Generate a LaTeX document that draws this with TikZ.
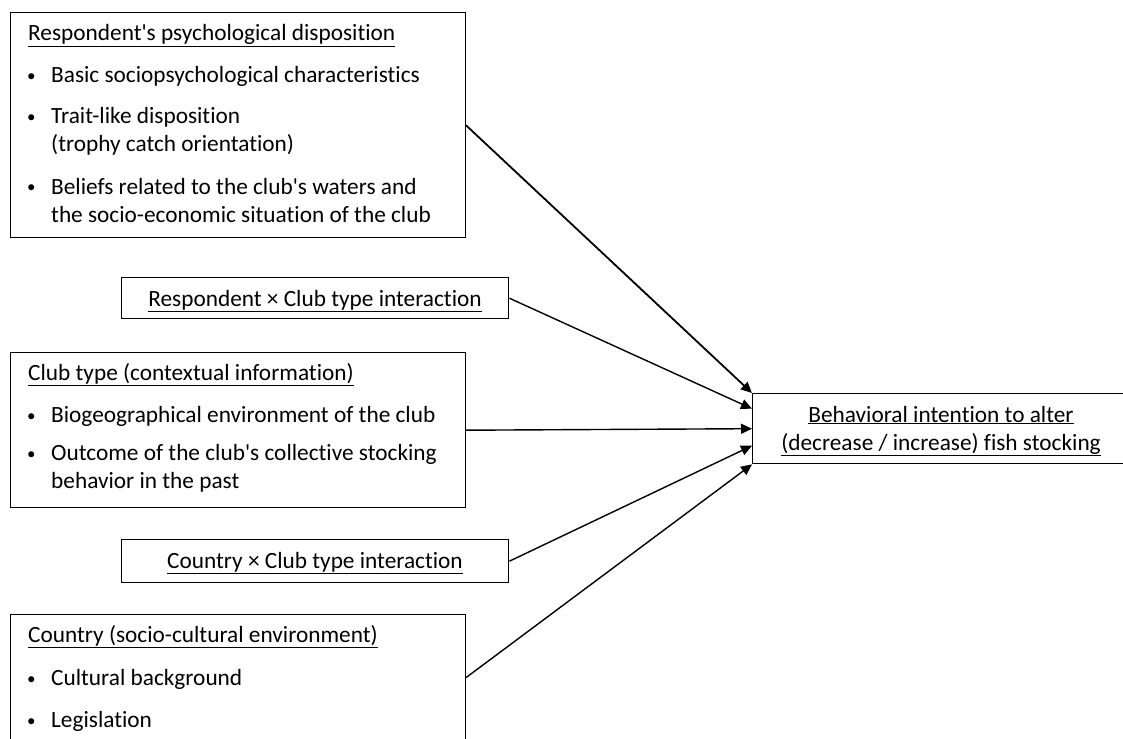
\documentclass[tikz,border=0pt]{standalone}
\usepackage{fontspec}
\setmainfont{Carlito}[Ligatures={TeXOff,CommonOff}]
\usetikzlibrary{arrows.meta}
\tikzset{
  box/.style={draw, line width=1.4pt, inner sep=0pt, anchor=north west},
  txt/.style={inner sep=0pt, anchor=base west, font=\fontsize{23.3}{28}\selectfont},
  ctxt/.style={inner sep=0pt, anchor=base, font=\fontsize{23.3}{28}\selectfont},
  bul/.style={inner sep=0pt, anchor=base west, font=\fontsize{17}{20}\selectfont},
  link/.style={line width=1.4pt, -{Triangle[length=11pt,width=10pt]}},
}
\newcommand{\ul}[1]{\underline{#1}}
\begin{document}
\begin{tikzpicture}[x=1pt,y=-1pt]
\useasboundingbox (0,0) rectangle (1123,738);
\clip (0,0) rectangle (1123,738);
% boxes
\node[box, minimum width=454.5pt, minimum height=225pt] (b1) at (10,12) {};
\node[box, minimum width=387pt, minimum height=41pt] (b2) at (121,277) {};
\node[box, minimum width=454.5pt, minimum height=155pt] (b3) at (10,352) {};
\node[box, minimum width=387pt, minimum height=43pt] (b4) at (121,539) {};
\node[box, minimum width=454.5pt, minimum height=126pt] (b5) at (10,614) {};
\node[box, minimum width=450pt, minimum height=70pt] (out) at (752,393) {};
% box 1 text
\node[txt] (t1) at (28,41) {\ul{Respondent's psychological disposition}};
\node[bul] (t1a) at (27,82) {•};
\node[txt] (t1b) at (51,83) {Basic sociopsychological characteristics};
\node[bul] (t1c) at (27,123) {•};
\node[txt] (t1d) at (51,124) {Trait-like disposition};
\node[txt] (t1e) at (51,152) {(trophy catch orientation)};
\node[bul] (t1f) at (27,193) {•};
\node[txt] (t1g) at (51,194) {Beliefs related to the club's waters and};
\node[txt] (t1h) at (51,222) {the socio-economic situation of the club};
% box 2 text
\node[ctxt] (t2) at (315,306) {\ul{Respondent × Club type interaction}};
% box 3 text
\node[txt] (t3) at (28,380) {\ul{Club type (contextual information)}};
\node[bul] (t3a) at (27,421) {•};
\node[txt] (t3b) at (51,422) {Biogeographical environment of the club};
\node[bul] (t3c) at (27,459) {•};
\node[txt] (t3d) at (51,460) {Outcome of the club's collective stocking};
\node[txt] (t3e) at (51,488) {behavior in the past};
% box 4 text
\node[ctxt] (t4) at (315,568) {\ul{Country × Club type interaction}};
% box 5 text
\node[txt] (t5) at (28,642) {\ul{Country (socio-cultural environment)}};
\node[bul] (t5a) at (27,684) {•};
\node[txt] (t5b) at (51,685) {Cultural background};
\node[bul] (t5c) at (27,726) {•};
\node[txt] (t5d) at (51,727) {Legislation};
% output text
\node[ctxt] (to1) at (941,422) {\ul{Behavioral intention to alter}};
\node[ctxt] (to2) at (941,450) {\ul{(decrease / increase) fish stocking}};
% arrows
\draw[link, line width=1.8pt] (b1.east) -- (out.north west);
\draw[link] (b2.east) -- ([yshift=20pt]out.west);
\draw[link] (b3.east) -- (out.west);
\draw[link] (b4.east) -- ([yshift=-17pt]out.west);
\draw[link] (b5.east) -- (out.south west);
\end{tikzpicture}
\end{document}
